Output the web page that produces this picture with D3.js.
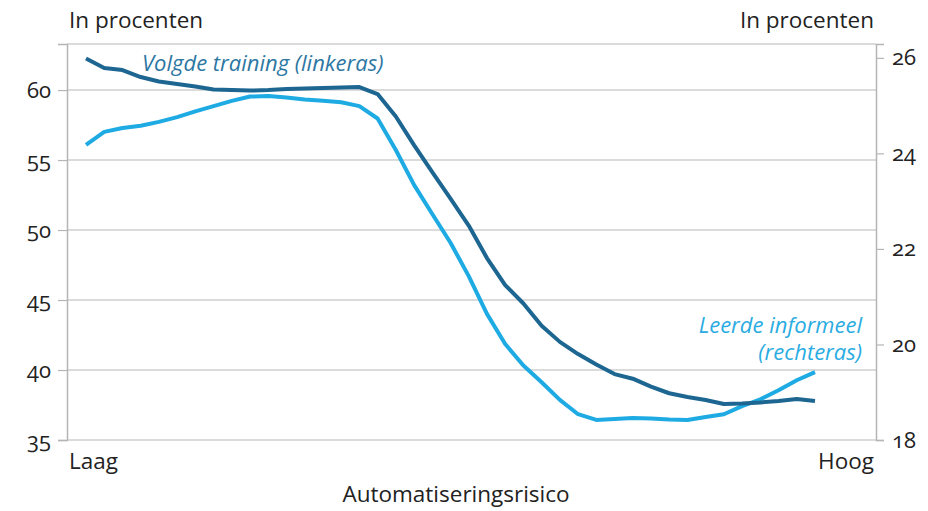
<!DOCTYPE html>
<html>
<head>
<meta charset="utf-8">
<script src="https://cdn.jsdelivr.net/npm/d3@7"></script>
<style>
  body { margin: 0; background: #fff; }
  svg text { font-family: "Open Sans", Lato, sans-serif; fill: #222; font-variant-numeric: oldstyle-nums; }
</style>
</head>
<body>
<svg id="chart" width="928" height="511"></svg>
<script>
// automatiseringsrisico, van laag (0) naar hoog (40)
const steps = d3.range(41);

// Volgde training (linkeras), in procenten
const training = [62.25, 61.57, 61.43, 60.93, 60.61, 60.43, 60.25, 60.04, 60.0, 59.96,
  60.0, 60.07, 60.11, 60.14, 60.18, 60.21, 59.71, 58.11, 56.07, 54.14,
  52.25, 50.32, 48.0, 46.07, 44.75, 43.16, 42.01, 41.14, 40.39, 39.71,
  39.38, 38.81, 38.34, 38.07, 37.86, 37.57, 37.61, 37.68, 37.79, 37.93, 37.79];

// Leerde informeel (rechteras), in procenten
const informeel = [24.18, 24.45, 24.53, 24.58, 24.66, 24.76, 24.88, 24.99, 25.10, 25.19,
  25.20, 25.17, 25.13, 25.10, 25.07, 24.99, 24.73, 24.07, 23.34, 22.73,
  22.13, 21.43, 20.64, 20.01, 19.56, 19.21, 18.84, 18.54, 18.42, 18.44,
  18.46, 18.45, 18.43, 18.42, 18.48, 18.54, 18.71, 18.85, 19.04, 19.25, 19.42];

const leftTicks = [35, 40, 45, 50, 55, 60];
const rightTicks = [18, 20, 22, 24, 26];

const margin = {top: 44, right: 52, bottom: 71, left: 67};
const width = 928, height = 511;
const svg = d3.select("#chart");
const g = svg.append("g").attr("transform", `translate(${margin.left},${margin.top})`);
const w = width - margin.left - margin.right;
const h = height - margin.top - margin.bottom;

const x = d3.scaleLinear().domain([0, 40]).range([19, 748]);
const yL = d3.scaleLinear().domain([35, 63.29]).range([h, 0]);
const yR = d3.scaleLinear().domain([18, 26.29]).range([h, 0]);

// Grid
g.selectAll(".grid").data(leftTicks).enter().append("line")
  .attr("x1", 0).attr("x2", w)
  .attr("y1", d => yL(d)).attr("y2", d => yL(d))
  .attr("stroke", "#cfcfcf").attr("stroke-width", 1.5);
g.append("line").attr("x1", 0).attr("x2", w).attr("y1", 0).attr("y2", 0)
  .attr("stroke", "#b5b5b5").attr("stroke-width", 1.2);

// Axes
const leftAxis = g.append("g").call(d3.axisLeft(yL).tickValues(leftTicks).tickSize(9).tickPadding(7));
const rightAxis = g.append("g").attr("transform", `translate(${w},0)`)
  .call(d3.axisRight(yR).tickValues(rightTicks).tickSize(8).tickPadding(8));
[leftAxis, rightAxis].forEach(a => {
  a.select(".domain").attr("stroke", "#b5b5b5").attr("stroke-width", 1.5);
  a.selectAll(".tick line").attr("stroke", "#b5b5b5").attr("stroke-width", 1.2);
  a.selectAll("text").attr("font-size", 22).attr("fill", "#222")
    .style("font-family", "'Open Sans', sans-serif");
});

// Lines
const lineL = d3.line().x((d, i) => x(steps[i])).y(d => yL(d));
const lineR = d3.line().x((d, i) => x(steps[i])).y(d => yR(d));
g.append("path").datum(informeel).attr("d", lineR)
  .attr("fill", "none").attr("stroke", "#1eaae2").attr("stroke-width", 4).attr("stroke-linejoin", "round");
g.append("path").datum(training).attr("d", lineL)
  .attr("fill", "none").attr("stroke", "#1c6691").attr("stroke-width", 4).attr("stroke-linejoin", "round");

// Labels
g.append("text").attr("x", 75).attr("y", 27).attr("font-size", 22).attr("font-style", "italic")
  .style("fill", "#2d77a3").text("Volgde training (linkeras)");
const lab = g.append("text").attr("font-size", 22).attr("font-style", "italic")
  .attr("text-anchor", "end").style("fill", "#2aace2");
lab.append("tspan").attr("x", 795).attr("y", 289).text("Leerde informeel");
lab.append("tspan").attr("x", 795).attr("y", 316).text("(rechteras)");

svg.append("text").attr("x", 69).attr("y", 28).attr("font-size", 22.5).text("In procenten");
svg.append("text").attr("x", 874).attr("y", 28).attr("font-size", 22.5).attr("text-anchor", "end").text("In procenten");
svg.append("text").attr("x", 69).attr("y", 469).attr("font-size", 22.5).text("Laag");
svg.append("text").attr("x", 874).attr("y", 469).attr("font-size", 22.5).attr("text-anchor", "end").text("Hoog");
svg.append("text").attr("x", 456).attr("y", 502).attr("font-size", 22.5).attr("text-anchor", "middle").text("Automatiseringsrisico");
</script>
</body>
</html>
